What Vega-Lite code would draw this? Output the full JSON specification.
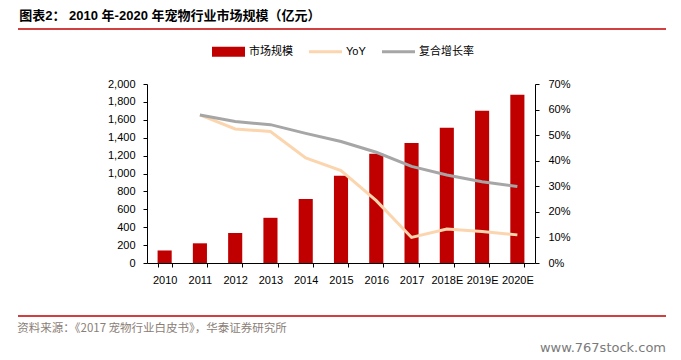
{
  "$schema": "https://vega.github.io/schema/vega-lite/v6.json",
  "background": "white",
  "padding": {"left": 17, "right": 16, "top": 10, "bottom": 0},
  "config": {
    "view": {"stroke": null},
    "font": "Liberation Sans",
    "axis": {"labelFont": "Liberation Sans", "labelFontSize": 11, "labelColor": "#000000", "domainColor": "#000000", "tickColor": "#000000", "grid": false, "title": null}
  },
  "datasets": {
    "market": [
      {"year": "2010", "scale": 140, "yoy": null, "cagr": null},
      {"year": "2011", "scale": 220, "yoy": 0.579, "cagr": 0.579},
      {"year": "2012", "scale": 335, "yoy": 0.524, "cagr": 0.553},
      {"year": "2013", "scale": 505, "yoy": 0.514, "cagr": 0.541},
      {"year": "2014", "scale": 715, "yoy": 0.411, "cagr": 0.507},
      {"year": "2015", "scale": 975, "yoy": 0.361, "cagr": 0.475},
      {"year": "2016", "scale": 1220, "yoy": 0.244, "cagr": 0.433},
      {"year": "2017", "scale": 1340, "yoy": 0.100, "cagr": 0.378},
      {"year": "2018E", "scale": 1510, "yoy": 0.133, "cagr": 0.344},
      {"year": "2019E", "scale": 1700, "yoy": 0.123, "cagr": 0.318},
      {"year": "2020E", "scale": 1880, "yoy": 0.110, "cagr": 0.299}
    ],
    "topRule": [{"start": 0, "end": 1, "level": 1}],
    "bottomRule": [{"start": 0, "end": 1, "level": 0}],
    "empty": []
  },
  "resolve": {"scale": {"x": "independent", "y": "independent"}},
  "spacing": 0,
  "vconcat": [
    {
      "width": 648,
      "height": 49,
      "title": {"text": "图表2：  2010 年-2020 年宠物行业市场规模（亿元）", "anchor": "start", "font": "Liberation Sans, Noto Sans CJK SC", "fontSize": 13, "fontWeight": "bold", "color": "#000000", "offset": 5, "dx": 2},
      "data": {"name": "topRule"},
      "mark": {"type": "rule", "color": "#C00000", "strokeWidth": 1.5},
      "encoding": {
        "x": {"field": "start", "type": "quantitative", "scale": {"domain": [0, 1], "nice": false}, "axis": null},
        "x2": {"field": "end"},
        "y": {"field": "level", "type": "quantitative", "scale": {"domain": [0, 1], "nice": false}, "axis": null}
      }
    },
    {
      "spacing": 0,
      "resolve": {"scale": {"x": "independent", "y": "independent"}},
      "hconcat": [
        {
          "width": 89,
          "height": 179,
          "data": {"name": "empty"},
          "mark": "rule",
          "encoding": {}
        },
        {
          "width": 388,
          "height": 179,
          "data": {"name": "market"},
          "layer": [
            {
              "mark": {"type": "bar", "color": "#C00000"},
              "encoding": {
                "x": {"field": "year", "type": "nominal", "sort": null,
                  "scale": {"domain": ["2010","2011","2012","2013","2014","2015","2016","2017","2018E","2019E","2020E"], "paddingInner": 0.6, "paddingOuter": 0.3},
                  "axis": {"labelAngle": 0, "tickBand": "extent", "tickSize": 4, "labelPadding": 7}},
                "y": {"field": "scale", "type": "quantitative",
                  "scale": {"domain": [0, 2000], "nice": false},
                  "axis": {"values": [0,200,400,600,800,1000,1200,1400,1600,1800,2000], "format": ",.0f", "tickSize": 4, "labelPadding": 8}},
                "color": {"datum": "市场规模", "type": "nominal",
                  "scale": {"domain": ["市场规模", "YoY", "复合增长率"], "range": ["#C00000", "#FBD5AE", "#A6A6A6"]},
                  "legend": {
                    "orient": "none", "legendX": 194, "legendY": 6, "direction": "horizontal",
                    "title": null, "symbolSize": 1089,
                    "labelFont": "Liberation Sans, Noto Sans CJK SC", "labelFontSize": 11, "labelColor": "#000000",
                    "labelOffset": 4, "columnPadding": 16,
                    "encode": {"symbols": {"update": {
                      "shape": {"signal": "datum.value === '市场规模' ? 'M-1,-0.3L1,-0.3L1,0.3L-1,0.3Z' : 'M-1,-0.09L1,-0.09L1,0.09L-1,0.09Z'"},
                      "fill": {"signal": "datum.value === '市场规模' ? '#C00000' : datum.value === 'YoY' ? '#FBD5AE' : '#A6A6A6'"},
                      "fillOpacity": {"value": 1},
                      "stroke": {"value": "transparent"},
                      "strokeWidth": {"value": 0}
                    }}}
                  }}
              }
            },
            {
              "layer": [
                {
                  "mark": {"type": "line", "strokeWidth": 3},
                  "encoding": {
                    "x": {"field": "year", "type": "nominal", "sort": null},
                    "y": {"field": "yoy", "type": "quantitative",
                      "scale": {"domain": [0, 0.7], "nice": false},
                      "axis": {"orient": "right", "values": [0,0.1,0.2,0.3,0.4,0.5,0.6,0.7], "format": ".0%", "tickSize": 4, "labelPadding": 9, "labelOverlap": false}},
                    "color": {"datum": "YoY", "type": "nominal"}
                  }
                },
                {
                  "mark": {"type": "line", "strokeWidth": 3},
                  "encoding": {
                    "x": {"field": "year", "type": "nominal", "sort": null},
                    "y": {"field": "cagr", "type": "quantitative",
                      "axis": {"orient": "right", "values": [0,0.1,0.2,0.3,0.4,0.5,0.6,0.7], "format": ".0%", "tickSize": 4, "labelPadding": 9, "labelOverlap": false}},
                    "color": {"datum": "复合增长率", "type": "nominal"}
                  }
                }
              ]
            }
          ],
          "resolve": {"scale": {"y": "independent"}}
        }
      ]
    },
    {
      "width": 648,
      "height": 31,
      "title": {"text": "资料来源：《2017 宠物行业白皮书》，华泰证券研究所", "orient": "bottom", "anchor": "start", "font": "Noto Sans CJK SC", "fontSize": 11.5, "fontWeight": "normal", "color": "#8a7e76", "offset": 6},
      "data": {"name": "bottomRule"},
      "mark": {"type": "rule", "color": "#C00000", "strokeWidth": 1.5},
      "encoding": {
        "x": {"field": "start", "type": "quantitative", "scale": {"domain": [0, 1], "nice": false}, "axis": null},
        "x2": {"field": "end"},
        "y": {"field": "level", "type": "quantitative", "scale": {"domain": [0, 1], "nice": false}, "axis": null}
      }
    },
    {
      "width": 648,
      "height": 1,
      "title": {"text": "www.767stock.com", "orient": "bottom", "anchor": "end", "font": "DejaVu Sans", "fontSize": 13, "fontWeight": "normal", "color": "#7a7a7a", "offset": 6},
      "data": {"name": "empty"},
      "mark": "rule",
      "encoding": {}
    }
  ]
}
